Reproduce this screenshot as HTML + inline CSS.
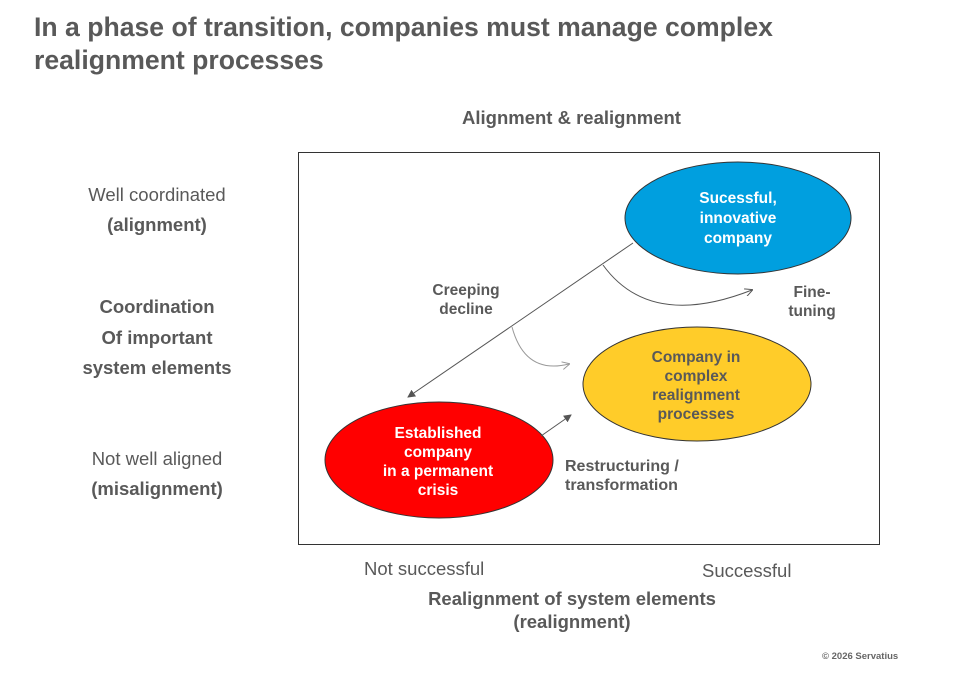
<!DOCTYPE html>
<html><head><style>
body{margin:0;width:960px;height:675px;background:#fff;position:relative;font-family:"Liberation Sans",Arial,sans-serif;overflow:hidden}
.t{position:absolute;color:#595959;text-align:center;white-space:nowrap}
.b{font-weight:bold}
</style></head><body>
<div class="t b" style="left:34px;top:11px;font-size:26.6px;text-align:left;line-height:33px;color:#595959">In a phase of transition, companies must manage complex<br>realignment processes</div>
<div class="t b" style="left:462px;top:107px;font-size:18.5px">Alignment &amp; realignment</div>
<div class="t" style="left:60px;top:180px;width:194px;font-size:18.5px;line-height:30px">Well coordinated<br><b>(alignment)</b></div>
<div class="t b" style="left:60px;top:292px;width:194px;font-size:18.5px;line-height:30.5px">Coordination<br>Of important<br>system elements</div>
<div class="t" style="left:60px;top:444px;width:194px;font-size:18.5px;line-height:30px">Not well aligned<br><b>(misalignment)</b></div>
<svg style="position:absolute;left:0;top:0" width="960" height="675">
<defs><marker id="a" markerWidth="8" markerHeight="8" refX="7" refY="4" orient="auto" markerUnits="userSpaceOnUse"><path d="M0,0 L8,4 L0,8 z" fill="#555"/></marker>
<marker id="g" markerWidth="8" markerHeight="8" refX="7" refY="4" orient="auto" markerUnits="userSpaceOnUse"><path d="M0,0 L8,4 L0,8" fill="none" stroke="#999"/></marker>
<marker id="o" markerWidth="8" markerHeight="8" refX="7" refY="4" orient="auto" markerUnits="userSpaceOnUse"><path d="M0,0 L8,4 L0,8" fill="none" stroke="#555"/></marker></defs>
<rect x="298.5" y="152.5" width="581" height="392" fill="none" stroke="#333" stroke-width="1"/>
<ellipse cx="738" cy="218" rx="113" ry="56" fill="#009fdf" stroke="#333"/>
<ellipse cx="697" cy="384" rx="114" ry="57" fill="#ffcc29" stroke="#333"/>
<ellipse cx="439" cy="460" rx="114" ry="58" fill="#ff0000" stroke="#333"/>
<line x1="633" y1="243" x2="408" y2="397" stroke="#555" marker-end="url(#a)"/>
<path d="M603,265 Q650,330 752,290" fill="none" stroke="#555" marker-end="url(#o)"/>
<path d="M512,327 Q525,375 569,364" fill="none" stroke="#999" marker-end="url(#g)"/>
<line x1="541" y1="436" x2="571" y2="415" stroke="#555" marker-end="url(#a)"/>
</svg>
<div class="t b" style="left:658px;top:189px;width:160px;font-size:15.5px;line-height:20px;color:#fff">Sucessful,<br>innovative<br>company</div>
<div class="t b" style="left:616px;top:348px;width:160px;font-size:15.5px;line-height:19px">Company in<br>complex<br>realignment<br>processes</div>
<div class="t b" style="left:358px;top:424px;width:160px;font-size:15.5px;line-height:19px;color:#fff">Established<br>company<br>in a permanent<br>crisis</div>
<div class="t b" style="left:406px;top:281px;width:120px;font-size:15.5px;line-height:19px">Creeping<br>decline</div>
<div class="t b" style="left:772px;top:283px;width:80px;font-size:15.5px;line-height:19px">Fine-<br>tuning</div>
<div class="t b" style="left:565px;top:457px;font-size:16px;line-height:19px;text-align:left">Restructuring /<br>transformation</div>
<div class="t" style="left:364px;top:558px;font-size:18.5px">Not successful</div>
<div class="t" style="left:702px;top:560px;font-size:18.5px">Successful</div>
<div class="t b" style="left:372px;top:587px;width:400px;font-size:18.5px;line-height:23px">Realignment of system elements<br>(realignment)</div>
<div class="t b" style="left:822px;top:651px;font-size:9.5px;color:#666">© 2026 Servatius</div>
</body></html>
